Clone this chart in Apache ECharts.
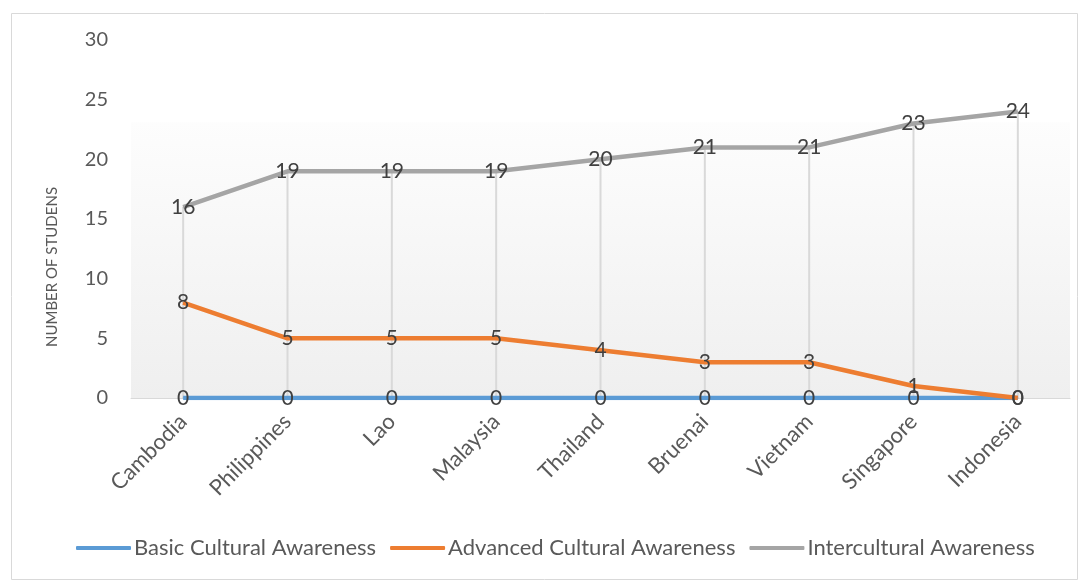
<!DOCTYPE html>
<html>
<head>
<meta charset="utf-8">
<script src="https://cdn.jsdelivr.net/npm/echarts@6/dist/echarts.min.js"></script>
<style>
  html, body { margin: 0; padding: 0; background: #fff; }
  #chart { width: 1086px; height: 582px; }
</style>
</head>
<body>
<div id="chart"></div>
<script>
// countries on the x axis
const countries = ['Cambodia', 'Philippines', 'Lao', 'Malaysia', 'Thailand', 'Bruenai', 'Vietnam', 'Singapore', 'Indonesia']
// number of students per level
const basic = [0, 0, 0, 0, 0, 0, 0, 0, 0]
const advanced = [8, 5, 5, 5, 4, 3, 3, 1, 0]
const intercultural = [16, 19, 19, 19, 20, 21, 21, 23, 24]

const font = 'Lato, "Liberation Sans", sans-serif'
const colors = ['#5b9bd5', '#ed7d31', '#a5a5a5']

// drop line height = highest value of the category
const dropTop = countries.map((c, i) => Math.max(basic[i], advanced[i], intercultural[i]))

const chart = echarts.init(document.getElementById('chart'))

function lineSeries(name, data, color) {
  return {
    name: name,
    type: 'line',
    data: data,
    symbol: 'circle',
    symbolSize: 1,
    showSymbol: true,
    lineStyle: { width: 4.5, color: color },
    itemStyle: { color: color },
    label: {
      show: true,
      position: 'inside',
      color: '#404040',
      fontSize: 21,
      fontFamily: font
    },
    z: 3
  }
}

const option = {
  animation: false,
  color: colors,
  grid: { left: 131, right: 16, top: 40, bottom: 184 },
  graphic: [
    {
      type: 'rect',
      left: 9, top: 11,
      shape: { width: 1066, height: 566 },
      style: { fill: 'none', stroke: '#d9d9d9', lineWidth: 1 },
      z: -10
    },
    {
      type: 'text',
      x: 52, y: 267,
      rotation: Math.PI / 2,
      style: {
        text: 'NUMBER OF STUDENS',
        fill: '#595959',
        fontSize: 15,
        fontFamily: font,
        align: 'center',
        verticalAlign: 'middle'
      }
    }
  ],
  legend: {
    bottom: 18,
    left: 71,
    data: ['Basic Cultural Awareness', 'Advanced Cultural Awareness', 'Intercultural Awareness'],
    icon: 'roundRect',
    itemWidth: 55,
    itemHeight: 4,
    itemGap: 14,
    textStyle: { color: '#595959', fontSize: 22, fontFamily: font, padding: [0, 0, 0, -2] }
  },
  xAxis: {
    type: 'category',
    data: countries,
    boundaryGap: true,
    axisLine: { lineStyle: { color: '#d9d9d9', width: 1 } },
    axisTick: { show: false },
    axisLabel: {
      rotate: 45,
      color: '#595959',
      fontSize: 22,
      fontFamily: font,
      margin: 20
    }
  },
  yAxis: {
    type: 'value',
    min: 0,
    max: 30,
    interval: 5,
    axisLine: { show: false },
    axisTick: { show: false },
    splitLine: { show: false },
    axisLabel: { color: '#595959', fontSize: 20, fontFamily: font, margin: 23 }
  },
  series: [
    {
      // vertical drop lines
      type: 'bar',
      data: dropTop,
      barWidth: 2,
      silent: true,
      itemStyle: { color: '#d9d9d9' },
      z: 1,
      markArea: {
        silent: true,
        itemStyle: {
          color: new echarts.graphic.LinearGradient(0, 0, 0, 1, [
            { offset: 0, color: '#fdfdfd' },
            { offset: 1, color: '#efefef' }
          ])
        },
        data: [[{ yAxis: 23.1, x: 131 }, { yAxis: 0, x: 1070 }]]
      }
    },
    lineSeries('Basic Cultural Awareness', basic, colors[0]),
    lineSeries('Advanced Cultural Awareness', advanced, colors[1]),
    lineSeries('Intercultural Awareness', intercultural, colors[2])
  ]
}

chart.setOption(option)
</script>
</body>
</html>
